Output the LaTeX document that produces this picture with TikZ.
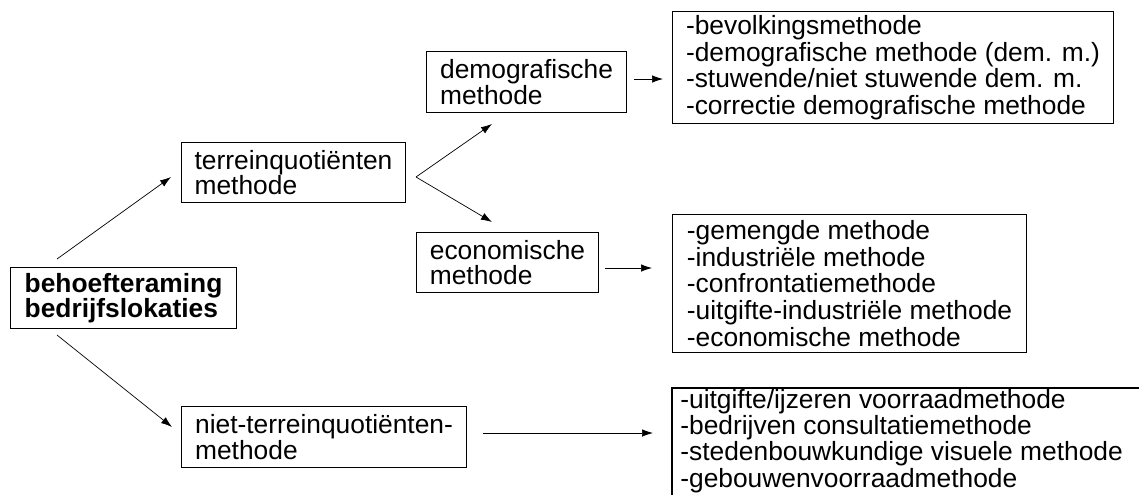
\documentclass[tikz,border=0pt]{standalone}
\usepackage{fontspec}
\setmainfont{Liberation Sans}
\usepackage{tikz}
\usetikzlibrary{arrows.meta}

\tikzset{
  >={Latex[length=2.2mm,width=1.5mm]},
  blok/.style={draw, line width=0.6pt, anchor=north west, align=left,
    inner ysep=0pt, font=\fontsize{15}{14.6}\selectfont},
  lijst/.style={blok, inner xsep=12*0.02cm, font=\fontsize{15}{15.1}\selectfont}
}

\begin{document}
\begin{tikzpicture}[x=0.02cm,y=-0.02cm]
\useasboundingbox (0,0) rectangle (1139,495);

% boxes
\node [blok, minimum width=226*0.02cm, minimum height=61*0.02cm,
  font=\fontsize{15}{14.6}\selectfont\bfseries] (vraag) at (10,267)
  {behoefteraming\\bedrijfslokaties};
\node [blok, minimum width=224*0.02cm, minimum height=60*0.02cm] (tq) at (181,142)
  {terreinquoti\"enten\\methode};
\node [blok, minimum width=200*0.02cm, minimum height=61*0.02cm] (demo) at (426,51)
  {demografische\\methode};
\node [blok, minimum width=182*0.02cm, minimum height=60*0.02cm] (eco) at (416,232)
  {economische\\methode};
\node [blok, minimum width=285*0.02cm, minimum height=61*0.02cm] (ntq) at (181,406)
  {niet-terreinquoti\"enten-\\methode};

\node [lijst, minimum width=441*0.02cm, minimum height=112*0.02cm] (demolijst) at (672,11)
  {-bevolkingsmethode\\-demografische methode (dem. m.)\\-stuwende/niet stuwende dem. m.\\-correctie demografische methode};
\node [lijst, minimum width=354*0.02cm, minimum height=138*0.02cm] (ecolijst) at (672,214)
  {-gemengde methode\\-industri\"ele methode\\-confrontatiemethode\\-uitgifte-industri\"ele methode\\-economische methode};
\node [anchor=west, align=left, inner sep=0pt, font=\fontsize{15}{13}\selectfont] (ntqlijst) at (680,441)
  {-uitgifte/ijzeren voorraadmethode\\-bedrijven consultatiemethode\\-stedenbouwkundige visuele methode\\-gebouwenvoorraadmethode};
\draw [line width=0.6pt] (1139,388) -| (672,495);

% arrow ends
\coordinate (v1) at (57,259);
\coordinate (t1) at (171,177);
\coordinate (v2) at (57,335);
\coordinate (n1) at (172,427);
\coordinate (split) at (416,177);
\coordinate (d1) at (492,124);
\coordinate (e1) at (492,222);
\coordinate (d2) at (634,79);
\coordinate (d3) at (663,79);
\coordinate (e2) at (605,268);
\coordinate (e3) at (652,268);
\coordinate (n2) at (483,433);
\coordinate (n3) at (653,433);

% arrows
\draw [->] (v1)--(t1);
\draw [->] (v2)--(n1);
\draw [->] (split)--(d1);
\draw [->] (split)--(e1);
\draw [->] (d2)--(d3);
\draw [->] (e2)--(e3);
\draw [->] (n2)--(n3);
\end{tikzpicture}
\end{document}
